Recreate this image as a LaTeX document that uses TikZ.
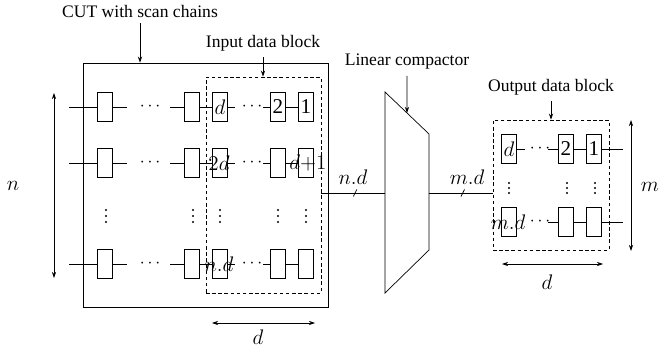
\documentclass[tikz,border=0pt]{standalone}
\usepackage{fontspec}
\setmainfont{Liberation Serif}
\usetikzlibrary{arrows.meta, positioning, calc}

\begin{document}
\begin{tikzpicture}[
    x=0.02cm, y=-0.02cm,
    cell/.style={draw, minimum width=0.3cm, minimum height=0.58cm, inner sep=0pt, font=\large},
    blk/.style={draw, inner sep=0pt},
    dashblk/.style={draw, dash pattern=on 2pt off 1.5pt, inner sep=0pt},
    mlbl/.style={font=\large, inner sep=0pt},
    dots/.style={inner sep=0pt},
    arr/.style={-{Stealth[length=3.5pt, width=2.4pt]}},
    dimarr/.style={{Stealth[length=3.5pt, width=2.4pt]}-{Stealth[length=3.5pt, width=2.4pt]}}
]
    \useasboundingbox (0,0) rectangle (661,348);

    % CUT and input data block
    \node[blk, minimum width=4.90cm, minimum height=4.88cm] (cut) at (205.5,185) {};
    \node[dashblk, minimum width=2.30cm, minimum height=4.32cm] (inblk) at (263.5,185) {};
    \node (cutlbl) at (140,11) {CUT with scan chains};
    \node (inlbl) at (263,43) {Input data block};
    \draw[arr] (cutlbl) -- (cutlbl |- cut.north);
    \draw[arr] (inlbl) -- (inlbl |- inblk.north);

    % scan chains
    \foreach \r/\y in {1/107, 2/163, 4/264} {
        \node[cell] (in\r-a) at (105,\y) {};
        \node[cell] (in\r-b) at (192,\y) {};
        \node[cell] (in\r-c) at (220,\y) {};
        \node[cell] (in\r-d) at (278,\y) {};
        \node[cell] (in\r-e) at (306,\y) {};
        \node[dots] (hd\r-a) at (150,\y) {$\cdots$};
        \node[dots] (hd\r-b) at (252,\y) {$\cdots$};
        \draw (in\r-a.west) -- ++(-0.57cm,0);
        \draw (in\r-a.east) -- ++(0.29cm,0);
        \draw (in\r-b.west) -- ++(-0.29cm,0);
        \draw (in\r-b) -- (in\r-c);
        \draw (in\r-c.east) -- ++(0.15cm,0);
        \draw (in\r-d.west) -- ++(-0.15cm,0);
        \draw (in\r-d) -- (in\r-e);
    }
    % vertical dots
    \foreach \x in {106,193,220,278,306}
        \foreach \dy in {-6,0,6}
            \fill (\x,{216+\dy}) circle (0.6pt);
    \node[font=\large, inner sep=0pt] at (in1-c) {$d$};
    \node[font=\large, inner sep=0pt] at (in1-d) {2};
    \node[font=\large, inner sep=0pt] at (in1-e) {1};
    \node[mlbl] (l2d) at (219,163) {$2d$};
    \node[mlbl] (ld1) at (308,163) {$d{+}1$};
    \node[mlbl] (lnd) at (219,264) {$n.d$};

    % dimensions of the CUT
    \coordinate (ntop) at (54,93);
    \coordinate (nbot) at (54,278);
    \draw[dimarr] (ntop) -- (nbot);
    \node[mlbl] (nlbl) at (13,186) {$n$};
    \coordinate (dl) at (212,323);
    \coordinate (dr) at (315,323);
    \draw[dimarr] (dl) -- (dr);
    \node[mlbl] (dlbl) at (258,337) {$d$};

    % linear compactor
    \coordinate (cmp1) at (385,92);
    \coordinate (cmp2) at (429,134);
    \coordinate (cmp3) at (429,250);
    \coordinate (cmp4) at (385,293);
    \coordinate (cmpin) at (385,193);
    \coordinate (cmpout) at (429,193);
    \draw (cmp1) -- (cmp2) -- (cmp3) -- (cmp4) -- cycle;
    \node (cmplbl) at (407,62) {Linear compactor};
    \draw[arr] (cmplbl) -- ($(cmp1)!0.5!(cmp2)$);

    % output data block
    \node[dashblk, minimum width=2.32cm, minimum height=2.60cm] (outblk) at (551,185) {};
    \node (outlbl) at (551,87) {Output data block};
    \draw[arr] (outlbl) -- (outlbl |- outblk.north);

    \draw (cmpin -| inblk.east) -- coordinate[pos=0.53] (tk1) (cmpin);
    \draw ([shift={(-1pt,-2pt)}]tk1) -- ([shift={(1pt,2pt)}]tk1);
    \node[mlbl] (ndlbl) at (353,177) {$n.d$};
    \draw (cmpout) -- coordinate[pos=0.53] (tk2) (cmpout -| outblk.west);
    \draw ([shift={(-1pt,-2pt)}]tk2) -- ([shift={(1pt,2pt)}]tk2);
    \node[mlbl] (mdlbl) at (467,177) {$m.d$};

    \foreach \r/\y in {1/149, 3/222} {
        \node[cell] (out\r-a) at (509,\y) {};
        \node[cell] (out\r-b) at (566,\y) {};
        \node[cell] (out\r-c) at (594,\y) {};
        \node[dots] (od\r) at (540,\y) {$\cdots$};
        \draw (out\r-b.west) -- ++(-0.21cm,0);
        \draw (out\r-b) -- (out\r-c);
        \draw (out\r-c.east) -- ++(0.43cm,0);
    }
    \draw (out1-a.east) -- ++(0.17cm,0);
    \foreach \x in {509,567,595}
        \foreach \dy in {-5,0,5}
            \fill (\x,{188+\dy}) circle (0.6pt);
    \node[font=\large, inner sep=0pt] at (out1-a) {$d$};
    \node[font=\large, inner sep=0pt] at (out1-b) {2};
    \node[font=\large, inner sep=0pt] at (out1-c) {1};
    \node[mlbl] (lmd) at (508,222) {$m.d$};

    % dimensions of the output block
    \coordinate (mtop) at (631,120);
    \coordinate (mbot) at (631,251);
    \draw[dimarr] (mtop) -- (mbot);
    \node[mlbl] (mlb) at (650,187) {$m$};
    \coordinate (odl) at (502,264);
    \coordinate (odr) at (603,264);
    \draw[dimarr] (odl) -- (odr);
    \node[mlbl] (odlbl) at (547,282) {$d$};
\end{tikzpicture}
\end{document}
